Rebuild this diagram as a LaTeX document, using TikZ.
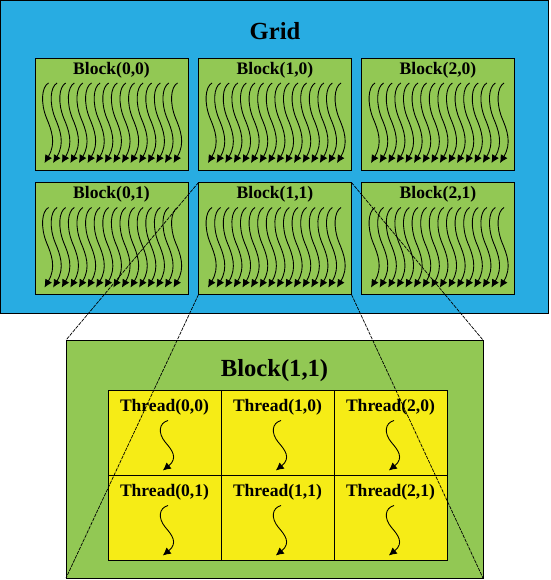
\documentclass[tikz,border=0pt]{standalone}
\usepackage{fontspec}
\setmainfont{Liberation Serif}
\usetikzlibrary{arrows.meta}
\usepackage{xcolor}

\definecolor{gridblue}{RGB}{40,172,226}
\definecolor{blockgreen}{RGB}{146,200,84}
\definecolor{threadyellow}{RGB}{246,236,22}

\tikzset{
  wave/.pic={\draw[-{Latex[length=4.5pt,width=4.5pt]}] (0,0) .. controls (-7,4) and (-8,20) .. (-2,35) .. controls (3,47) and (8,60) .. (-4,80);}
}

\begin{document}
\begin{tikzpicture}[x=0.02cm,y=-0.02cm,line width=0.5pt]
    \useasboundingbox (0,0) rectangle (550,580);

    \node[draw,fill=gridblue,inner sep=0,minimum width=10.96cm,minimum height=6.26cm,anchor=north west] (grid) at (0.5,0.5) {};
    \node[font=\bfseries\fontsize{14}{16}\selectfont] (gridlabel) at (275,31) {Grid};

    \begin{scope}[every node/.style={inner sep=0,outer sep=0},
        block/.style={draw,fill=blockgreen,minimum width=3.06cm,minimum height=2.24cm},
        blocklabel/.style={font=\bfseries\fontsize{10}{12}\selectfont}]
      \foreach \i/\x in {0/111.5,1/275,2/438}
        \foreach \j/\y in {0/114,1/238.5} {
          \node[block] (b\i\j) at (\x,\y) {};
          \node[blocklabel] (lb\i\j) at (\x,\y-44) {Block(\i,\j)};
          \foreach \k in {0,...,15}
            \pic at (\x-63+\k*8.6,\y-31) {wave};
        }
    \end{scope}

    \begin{scope}[every node/.style={inner sep=0,outer sep=0},
        thread/.style={draw,fill=threadyellow,minimum width=2.26cm,minimum height=1.7cm},
        threadlabel/.style={font=\bfseries\fontsize{10}{12}\selectfont}]
      \node[draw,fill=blockgreen,minimum width=8.34cm,minimum height=4.76cm] (big) at (274.5,459) {};
      \node[font=\bfseries\fontsize{14}{16}\selectfont] (biglabel) at (274.5,371) {Block(1,1)};
      \foreach \i/\x in {0/164.5,1/277.5,2/390.5}
        \foreach \j/\y in {0/432.5,1/517.5} {
          \node[thread] (t\i\j) at (\x,\y) {};
          \node[threadlabel] (lt\i\j) at (\x,\y-25) {Thread(\i,\j)};
          \pic[xscale=1.3,yscale=0.625] at (\x+3.5,\y-12) {wave};
        }
    \end{scope}

    \begin{scope}[every path/.style={draw,line width=0.4pt,dash pattern=on 2pt off 0.6pt}]
      \path (b11.north west) -- (big.north west);
      \path (b11.south west) -- (big.south west);
      \path (b11.north east) -- (big.north east);
      \path (b11.south east) -- (big.south east);
    \end{scope}
\end{tikzpicture}
\end{document}
